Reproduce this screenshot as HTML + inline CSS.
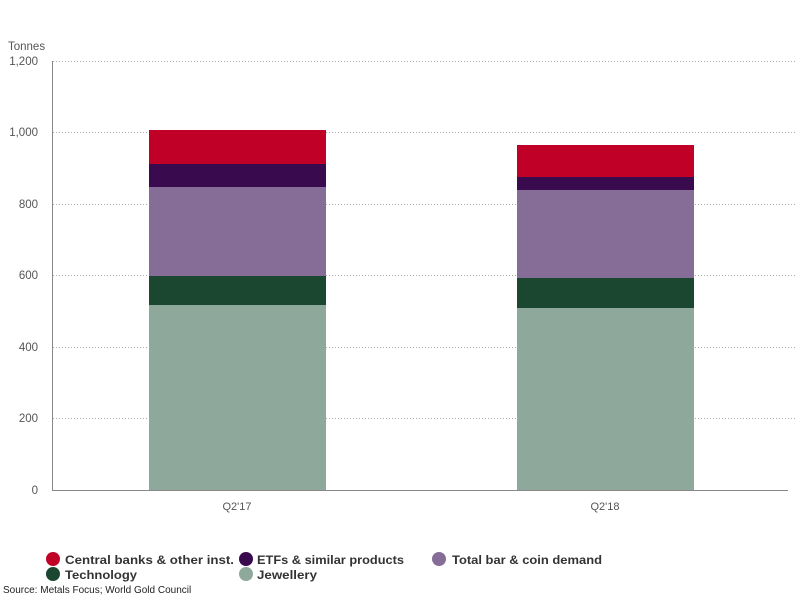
<!DOCTYPE html>
<html><head><meta charset="utf-8"><style>body{margin:0;background:#fff}svg{display:block;font-family:"Liberation Sans",Arial,sans-serif}</style></head><body>
<svg width="800" height="600" viewBox="0 0 800 600">
<g stroke="#aaa" stroke-width="1" stroke-dasharray="1,2">
<line x1="53" y1="61.5" x2="795" y2="61.5"/>
<line x1="53" y1="132.5" x2="795" y2="132.5"/>
<line x1="53" y1="204.5" x2="795" y2="204.5"/>
<line x1="53" y1="275.5" x2="795" y2="275.5"/>
<line x1="53" y1="347.5" x2="795" y2="347.5"/>
<line x1="53" y1="418.5" x2="795" y2="418.5"/>
</g>
<g font-size="11.5" fill="#555" text-anchor="end">
<text x="38" y="65">1,200</text><text x="38" y="136">1,000</text><text x="38" y="208">800</text><text x="38" y="279">600</text><text x="38" y="351">400</text><text x="38" y="422">200</text><text x="38" y="494">0</text>
</g>
<text x="8" y="50" font-size="11.5" fill="#555">Tonnes</text>
<rect x="149" y="130" width="177" height="34" fill="#c10028"/>
<rect x="149" y="164" width="177" height="23" fill="#3a0a4e"/>
<rect x="149" y="187" width="177" height="89" fill="#866d97"/>
<rect x="149" y="276" width="177" height="29" fill="#1b4630"/>
<rect x="149" y="305" width="177" height="185" fill="#8fa89c"/>
<rect x="517" y="145" width="177" height="32" fill="#c10028"/>
<rect x="517" y="177" width="177" height="13" fill="#3a0a4e"/>
<rect x="517" y="190" width="177" height="88" fill="#866d97"/>
<rect x="517" y="278" width="177" height="30" fill="#1b4630"/>
<rect x="517" y="308" width="177" height="182" fill="#8fa89c"/>
<line x1="52.5" y1="61" x2="52.5" y2="490" stroke="#888"/>
<line x1="52" y1="490.5" x2="788" y2="490.5" stroke="#888"/>
<g font-size="11" fill="#555" text-anchor="middle"><text x="237" y="510">Q2'17</text><text x="605" y="510">Q2'18</text></g>
<g font-size="12" font-weight="bold" fill="#333">
<circle cx="53" cy="559" r="7" fill="#c10028"/><text x="65" y="564" textLength="169" lengthAdjust="spacingAndGlyphs">Central banks &amp; other inst.</text>
<circle cx="246" cy="559" r="7" fill="#3a0a4e"/><text x="257" y="564" textLength="147" lengthAdjust="spacingAndGlyphs">ETFs &amp; similar products</text>
<circle cx="439" cy="559" r="7" fill="#866d97"/><text x="452" y="564" textLength="150" lengthAdjust="spacingAndGlyphs">Total bar &amp; coin demand</text>
<circle cx="53" cy="574" r="7" fill="#1b4630"/><text x="65" y="579" textLength="72" lengthAdjust="spacingAndGlyphs">Technology</text>
<circle cx="246" cy="574" r="7" fill="#8fa89c"/><text x="257" y="579" textLength="60" lengthAdjust="spacingAndGlyphs">Jewellery</text>
</g>
<text x="3" y="593" font-size="10" fill="#222">Source: Metals Focus; World Gold Council</text>
</svg>
</body></html>
